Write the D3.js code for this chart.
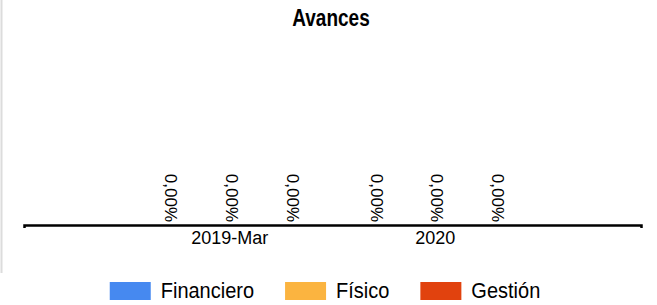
<!DOCTYPE html>
<html>
<head>
<meta charset="utf-8">
<script src="https://cdn.jsdelivr.net/npm/d3@7"></script>
<style>
  body { margin: 0; background: #fff; }
  svg { display: block; font-family: "Liberation Sans", Arial, sans-serif; }
</style>
</head>
<body>
<svg id="chart" width="657" height="305"></svg>
<script>
// chart data
const categories = ["2019-Mar", "2020"];
const seriesNames = ["Financiero", "Físico", "Gestión"];
const financiero = [0, 0];
const fisico = [0, 0];
const gestion = [0, 0];
const seriesColors = ["#4689f0", "#fbb440", "#e1420e"];

const seriesValues = [financiero, fisico, gestion];
const rows = categories.map((c, i) => ({
  category: c,
  values: seriesNames.map((s, j) => ({ key: s, value: seriesValues[j][i] }))
}));

const W = 657, H = 305;
const axisY = 225, plotTop = 40;

const svg = d3.select("#chart");

// container left border
svg.append("line")
  .attr("x1", 1.5).attr("x2", 1.5)
  .attr("y1", 0).attr("y2", 273)
  .attr("stroke", "#dcdcdc")
  .attr("stroke-width", 2);

// title (the original font renders taller, so stretch it a bit)
svg.append("text")
  .attr("transform", "translate(331,26) scale(1,1.25)")
  .attr("text-anchor", "middle")
  .attr("font-size", "19px")
  .attr("font-weight", "bold")
  .attr("fill", "#000")
  .text("Avances");

const x0 = d3.scaleBand()
  .domain(categories)
  .range([24, 641])
  .paddingInner(0)
  .paddingOuter(0.5);

const x1 = d3.scaleBand()
  .domain(seriesNames)
  .range([0, x0.bandwidth()])
  .paddingInner(0.2)
  .paddingOuter(0.29);

const y = d3.scaleLinear()
  .domain([0, 1])
  .range([axisY, plotTop]);

const color = d3.scaleOrdinal().domain(seriesNames).range(seriesColors);

// bars
const groups = svg.append("g")
  .selectAll("g")
  .data(rows)
  .join("g")
  .attr("transform", d => `translate(${x0(d.category)},0)`);

groups.selectAll("rect")
  .data(d => d.values)
  .join("rect")
  .attr("x", d => x1(d.key))
  .attr("width", x1.bandwidth())
  .attr("y", d => y(d.value))
  .attr("height", d => y(0) - y(d.value))
  .attr("fill", d => color(d.key));

// value labels, rotated
const fmt = v => d3.format(".2f")(v * 100).replace(".", ",") + "%";
groups.selectAll("text")
  .data(d => d.values)
  .join("text")
  .attr("transform", d => `translate(${x1(d.key) + x1.bandwidth() / 2 + 2},${y(d.value) - 3}) rotate(90)`)
  .attr("text-anchor", "end")
  .attr("dy", "0.35em")
  .attr("font-size", "17px")
  .attr("fill", "#000")
  .text(d => fmt(d.value));

// x axis
const xAxis = svg.append("g")
  .attr("transform", `translate(0,${axisY})`)
  .call(d3.axisBottom(x0).tickSizeInner(0).tickSizeOuter(3).tickPadding(6));

xAxis.select(".domain")
  .attr("stroke", "#000")
  .attr("stroke-width", 2.5);
xAxis.selectAll(".tick line").remove();
xAxis.selectAll(".tick text")
  .attr("font-size", "18px")
  .attr("font-family", "\"Liberation Sans\", Arial, sans-serif")
  .attr("fill", "#000");

// legend
const legend = svg.append("g");
const items = legend.selectAll("g")
  .data(seriesNames)
  .join("g");
items.append("rect")
  .attr("width", 41)
  .attr("height", 18)
  .attr("y", 282)
  .attr("fill", d => color(d));
items.append("text")
  .attr("transform", "translate(51,298) scale(1,1.12)")
  .attr("font-size", "20px")
  .attr("fill", "#000")
  .text(d => d);

let cursor = 0;
items.each(function() {
  const g = d3.select(this);
  g.attr("transform", `translate(${cursor},0)`);
  cursor += 51 + g.select("text").node().getComputedTextLength() + 31;
});
const legendWidth = cursor - 31;
legend.attr("transform", `translate(${325 - legendWidth / 2},0)`);
</script>
</body>
</html>
